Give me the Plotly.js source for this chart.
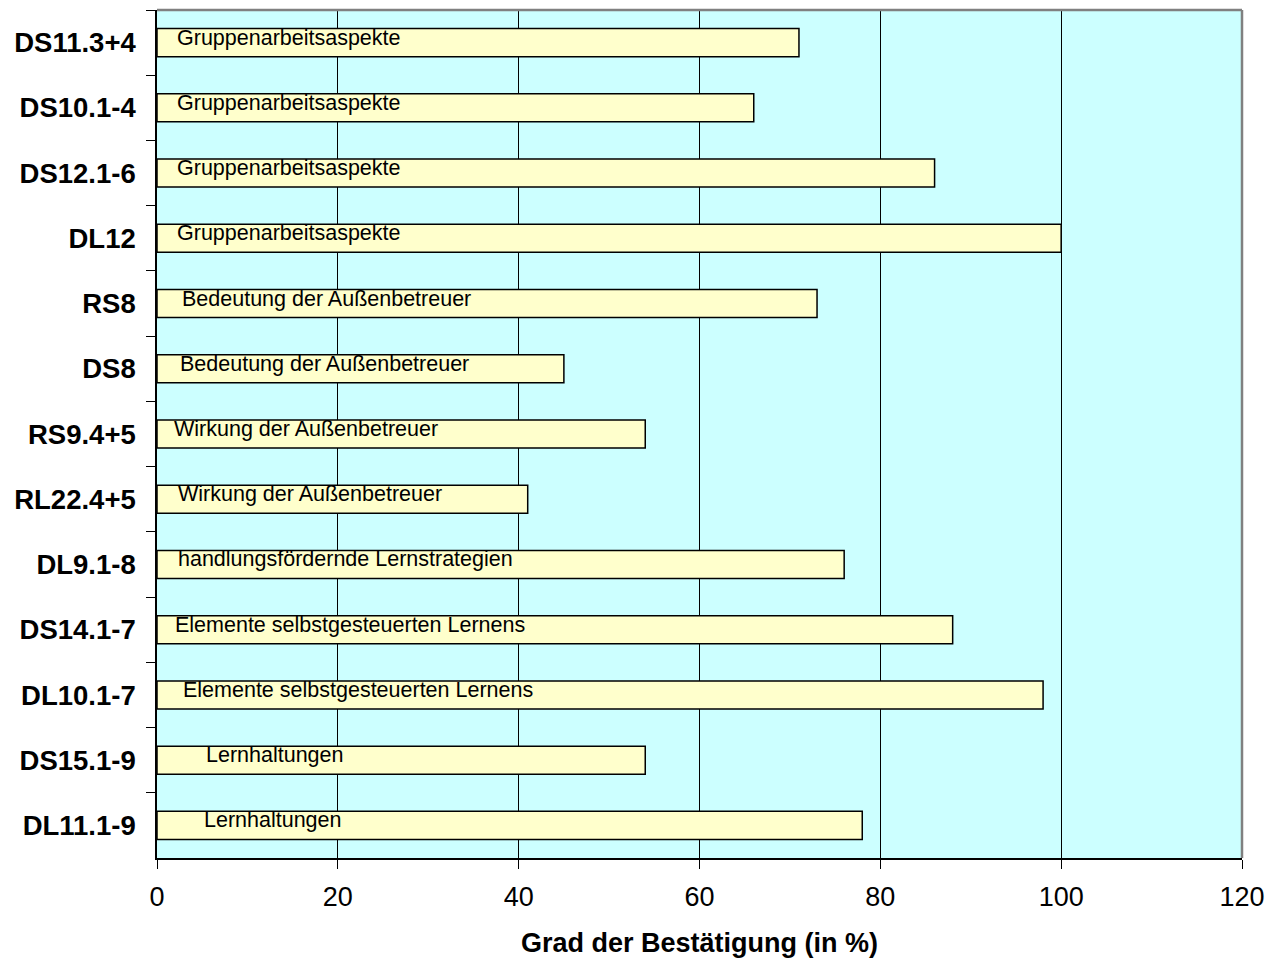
<!DOCTYPE html>
<html><head><meta charset="utf-8">
<script src="https://cdn.plot.ly/plotly-3.0.1.min.js"></script>
<style>html,body{margin:0;padding:0;background:#fff}#chart{width:1284px;height:963px}</style>
</head><body><div id="chart"></div>
<script>
const categories = ["DS11.3+4","DS10.1-4","DS12.1-6","DL12","RS8","DS8","RS9.4+5","RL22.4+5","DL9.1-8","DS14.1-7","DL10.1-7","DS15.1-9","DL11.1-9"];
const values = [71,66,86,100,73,45,54,41,76,88,98,54,78];
const barLabels = ["Gruppenarbeitsaspekte","Gruppenarbeitsaspekte","Gruppenarbeitsaspekte","Gruppenarbeitsaspekte",
  "Bedeutung der Außenbetreuer","Bedeutung der Außenbetreuer","Wirkung der Außenbetreuer","Wirkung der Außenbetreuer",
  "handlungsfördernde Lernstrategien","Elemente selbstgesteuerten Lernens","Elemente selbstgesteuerten Lernens",
  "Lernhaltungen","Lernhaltungen"];
const labelStart = [2.0,2.0,2.0,2.0,2.5,2.3,1.7,2.1,2.1,1.8,2.6,5.2,5.0];
const xTicks = [0,20,40,60,80,100,120];

const font = "Liberation Sans, Arial, sans-serif";
const trace = {
  type: "bar", orientation: "h", x: values, y: categories,
  marker: {color: "#FFFFCC", line: {color: "#000", width: 1.5}},
  hoverinfo: "x+y"
};
const annotations = categories.map((c, i) => ({
  x: labelStart[i], y: c, xref: "x", yref: "y", text: barLabels[i],
  showarrow: false, xanchor: "left", yanchor: "middle", yshift: 5,
  font: {family: font, size: 21.5, color: "#000"}
}));
const layout = {
  width: 1284, height: 963,
  margin: {l: 157, r: 42, t: 10, b: 105},
  paper_bgcolor: "#fff", plot_bgcolor: "#CCFFFF",
  showlegend: false, bargap: 0.57,
  xaxis: {
    range: [0, 120], tickvals: xTicks, ticktext: xTicks.map(String),
    showgrid: true, gridcolor: "#000", gridwidth: 1, zeroline: false,
    showline: true, linecolor: "#000", linewidth: 1.5,
    ticks: "outside", ticklen: 9, tickcolor: "#000",
    tickfont: {family: font, size: 27, color: "#000"}, ticklabelstandoff: 5,
    title: {text: "Grad der Bestätigung (in %)", font: {family: font, size: 27, color: "#000", weight: "bold"}, standoff: 22}
  },
  yaxis: {
    type: "category", categoryorder: "array", categoryarray: categories, autorange: "reversed",
    showgrid: false, zeroline: false, showline: true, linecolor: "#000", linewidth: 1.5,
    ticks: "outside", tickson: "boundaries", ticklen: 9, tickcolor: "#000",
    tickfont: {family: font, size: 27.5, color: "#000", weight: "bold"}, ticklabelstandoff: 14
  },
  annotations: annotations,
  shapes: [
    {type: "line", xref: "paper", yref: "paper", x0: 0, x1: 1, y0: 1, y1: 1, line: {color: "#808080", width: 2.5}},
    {type: "line", xref: "paper", yref: "paper", x0: 1, x1: 1, y0: 0, y1: 1, line: {color: "#808080", width: 2.5}}
  ]
};
Plotly.newPlot("chart", [trace], layout, {displayModeBar: false, responsive: false});
</script></body></html>
